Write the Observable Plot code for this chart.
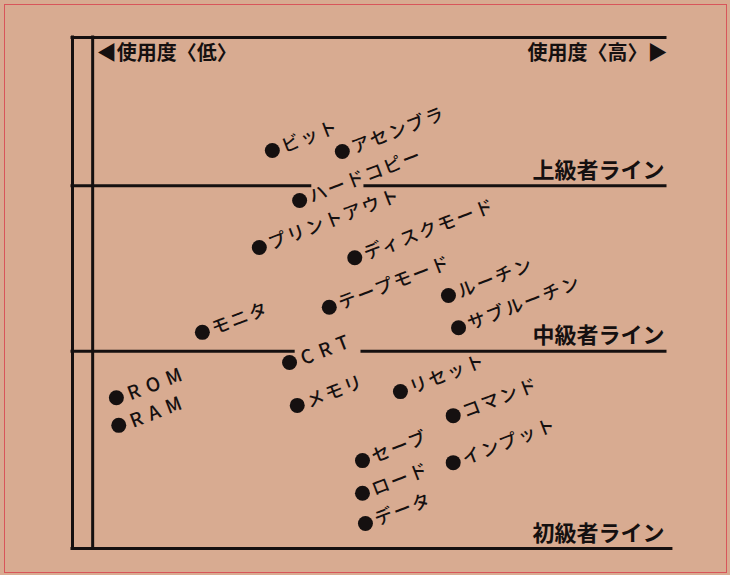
<!DOCTYPE html>
<html>
<head>
<meta charset="utf-8">
<script src="https://cdn.jsdelivr.net/npm/d3@7"></script>
<script src="https://cdn.jsdelivr.net/npm/@observablehq/plot@0.6"></script>
<style>
  html, body { margin: 0; padding: 0; background: #d8ab91; }
  #wrap { position: relative; width: 730px; height: 575px; overflow: hidden; }
  #border { position: absolute; left: 4px; top: 4px; width: 723px; height: 569px; border: 1.5px solid #d8555a; box-sizing: border-box; pointer-events: none; }
  #chart { position: absolute; left: 0; top: 0; }
</style>
</head>
<body>
<div id="wrap"><div id="chart"></div><div id="border"></div></div>
<script>
// Terms: usage (low -> high, 0..100) and skill level (0 = beginner line, 100 = top)
const terms = ["ビット","アセンブラ","ハードコピー","プリントアウト","ディスクモード","テープモード","ルーチン","サブルーチン","モニタ","CRT","ROM","RAM","メモリ","リセット","コマンド","セーブ","インプット","ロード","データ"];
const usage = [33.7, 45.5, 38.3, 31.5, 47.6, 43.3, 63.4, 65.1, 21.9, 36.6, 7.4, 7.8, 37.9, 55.3, 64.2, 48.9, 64.2, 48.9, 49.4];
const level = [77.9, 77.7, 68.1, 58.9, 56.9, 47.2, 49.5, 43.2, 42.3, 36.4, 29.5, 24.1, 28.0, 30.7, 26.0, 17.2, 16.8, 10.8, 4.9];

// Level lines
const lineNames = ["上級者ライン", "中級者ライン", "初級者ライン"];
const lineLevels = [71.0, 38.6, 0];
const lineGaps = [[40.1, 49.4], [37.3, 48.9], null];

// Axis captions
const lowLabel = "◀使用度〈低〉";
const highLabel = "使用度〈高〉▶";
const innerAxis = 3.4;

const points = terms.map((t, i) => ({term: t, usage: usage[i], level: level[i]}));
const isLatin = t => /^[A-Z]+$/.test(t);
const kana = points.filter(d => !isLatin(d.term));
const latin = points.filter(d => isLatin(d.term));

const segments = [{x1: 0, x2: 100, y: 100}];
lineLevels.forEach((y, i) => {
  const g = lineGaps[i];
  if (g) { segments.push({x1: 0, x2: g[0], y}); segments.push({x1: g[1], x2: 100, y}); }
  else segments.push({x1: 0, x2: 101, y});
});
const lineLabels = lineNames.map((n, i) => ({name: n, y: lineLevels[i]}));

const font = "'Noto Sans CJK JP', 'Noto Sans', sans-serif";
const ink = "#151010";

const plot = Plot.plot({
  width: 730,
  height: 575,
  marginLeft: 72,
  marginRight: 65,
  marginTop: 37,
  marginBottom: 27,
  x: {domain: [0, 100], axis: null},
  y: {domain: [0, 100], axis: null},
  style: {background: "transparent", fontFamily: font, color: ink},
  marks: [
    Plot.ruleY(segments, {y: "y", x1: "x1", x2: "x2", stroke: ink, strokeWidth: 3, strokeLinecap: "square"}),
    Plot.ruleX([0, innerAxis], {x: d => d, y1: 0, y2: 100, stroke: ink, strokeWidth: 3, strokeLinecap: "square"}),
    Plot.text([lowLabel], {x: innerAxis, y: 100, text: d => d, textAnchor: "start", dx: 4, dy: 16, fontSize: 20, fontWeight: "bold", fill: ink}),
    Plot.text([highLabel], {x: 100, y: 100, text: d => d, textAnchor: "end", dx: 2, dy: 16, fontSize: 20, fontWeight: "bold", fill: ink}),
    Plot.text(lineLabels, {x: 100, y: "y", text: "name", textAnchor: "end", dx: -1, dy: -15, fontSize: 22, fontWeight: "bold", fill: ink}),
    Plot.dot(points, {x: "usage", y: "level", r: 7.5, fill: ink, stroke: null}),
    Plot.text(kana, {x: "usage", y: "level", text: "term", textAnchor: "start", lineAnchor: "middle", rotate: -21, dx: 10, dy: -3, fontSize: 18, fontWeight: 500, fill: ink}),
    Plot.text(latin, {x: "usage", y: "level", text: "term", textAnchor: "start", lineAnchor: "middle", rotate: -21, dx: 12, dy: -3, fontSize: 19, fontWeight: 500, fill: ink})
  ]
});
document.getElementById("chart").appendChild(plot);
d3.select(plot).selectAll("text").each(function() {
  const t = this.textContent;
  if (terms.includes(t)) this.style.letterSpacing = isLatin(t) ? "7px" : "2px";
});
</script>
</body>
</html>
